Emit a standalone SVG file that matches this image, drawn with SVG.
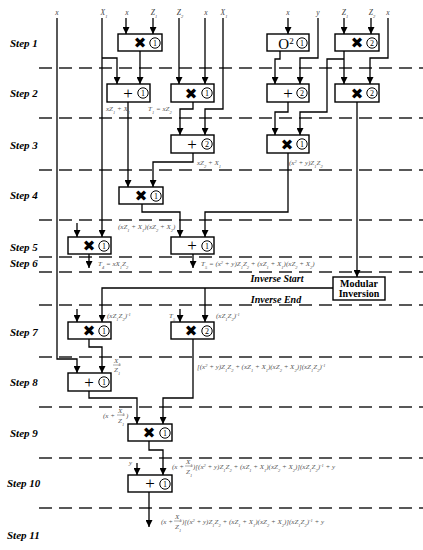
<svg xmlns="http://www.w3.org/2000/svg" width="423" height="550" viewBox="0 0 423 550">
<style>
.bg{fill:#fff}
.step{font-family:"Liberation Serif",serif;font-weight:bold;font-style:italic;font-size:11px;fill:#000}
.dash{stroke:#222;stroke-width:1.6;stroke-dasharray:13 7;fill:none}
.box{fill:#fff;stroke:#000;stroke-width:1.4}
.cir{fill:#fff;stroke:#000;stroke-width:1}
.num{font-family:"Liberation Serif",serif;font-size:8px;text-anchor:middle;fill:#000}
.mul{font-family:"DejaVu Sans",sans-serif;font-size:15px;text-anchor:middle;fill:#000}
.add{font-family:"Liberation Serif",serif;font-size:17px;text-anchor:middle;fill:#000}
.sq{font-family:"Liberation Serif",serif;font-size:15px;text-anchor:middle;fill:#000}
.mi{font-family:"Liberation Serif",serif;font-weight:bold;font-size:10px;text-anchor:middle;fill:#000}
.inv{font-family:"Liberation Serif",serif;font-weight:bold;font-style:italic;font-size:10px;text-anchor:middle;fill:#000}
.lab{font-family:"Liberation Serif",serif;font-style:italic;font-size:7px;fill:#555}
.top{font-family:"Liberation Serif",serif;font-style:italic;font-size:7.5px;fill:#444;text-anchor:middle}
.sub{font-size:4.5px;baseline-shift:sub}
.sup{font-size:4.5px;baseline-shift:super}
.con{fill:none;stroke:#000;stroke-width:1.3}
.arr{marker-end:url(#ah)}
.frl{stroke:#555;stroke-width:0.5}
</style>
<defs>
<marker id="ah" markerUnits="userSpaceOnUse" markerWidth="7" markerHeight="7" refX="7" refY="3.5" orient="auto">
<path d="M0,0 L7,3.5 L0,7 z" fill="#000"/>
</marker>
</defs>
<rect class="bg" x="0" y="0" width="423" height="550"/>

<g id="steps">
<text class="step" x="10" y="47">Step 1</text>
<text class="step" x="10" y="97">Step 2</text>
<text class="step" x="10" y="149">Step 3</text>
<text class="step" x="10" y="199">Step 4</text>
<text class="step" x="10" y="251">Step 5</text>
<text class="step" x="10" y="267">Step 6</text>
<text class="step" x="10" y="336">Step 7</text>
<text class="step" x="10" y="386">Step 8</text>
<text class="step" x="10" y="437">Step 9</text>
<text class="step" x="7" y="487">Step 10</text>
<text class="step" x="7" y="539">Step 11</text>
</g>

<g id="dashed-lines">
<line class="dash" x1="39" y1="68" x2="423" y2="68"/>
<line class="dash" x1="39" y1="118" x2="423" y2="118"/>
<line class="dash" x1="39" y1="170" x2="423" y2="170"/>
<line class="dash" x1="39" y1="220" x2="423" y2="220"/>
<line class="dash" x1="39" y1="257" x2="423" y2="257"/>
<line class="dash" x1="39" y1="272" x2="423" y2="272"/>
<line class="dash" x1="39" y1="305" x2="423" y2="305"/>
<line class="dash" x1="39" y1="357" x2="423" y2="357"/>
<line class="dash" x1="39" y1="407" x2="423" y2="407"/>
<line class="dash" x1="39" y1="458" x2="423" y2="458"/>
<line class="dash" x1="39" y1="508" x2="423" y2="508"/>
</g>

<g id="inputs">
<text class="top" x="57" y="15">x</text>
<text class="top" x="104" y="15">X<tspan class="sub">1</tspan></text>
<text class="top" x="127" y="15">x</text>
<text class="top" x="154" y="15">Z<tspan class="sub">1</tspan></text>
<text class="top" x="180" y="15">Z<tspan class="sub">2</tspan></text>
<text class="top" x="206" y="15">x</text>
<text class="top" x="224" y="15">X<tspan class="sub">1</tspan></text>
<text class="top" x="288" y="15">x</text>
<text class="top" x="318" y="15">y</text>
<text class="top" x="345" y="15">Z<tspan class="sub">1</tspan></text>
<text class="top" x="372" y="15">Z<tspan class="sub">2</tspan></text>
<text class="top" x="388" y="15">x</text>
</g>

<g id="connectors">
<path class="con arr" d="M57,18 V359 H77 V373"/>
<path class="con arr" d="M102,18 V237"/>
<path class="con arr" d="M102,58 H117 V84"/>
<path class="con arr" d="M126,18 V34"/>
<path class="con arr" d="M153,18 V34"/>
<path class="con arr" d="M179,18 V84"/>
<path class="con arr" d="M205,18 V84"/>
<path class="con arr" d="M223,18 V109 H205 V135"/>
<path class="con arr" d="M288,18 V34"/>
<path class="con arr" d="M318,18 V58 H300 V84"/>
<path class="con arr" d="M344,18 V34"/>
<path class="con arr" d="M371,18 V34"/>
<path class="con arr" d="M388,18 V58 H370 V84"/>
<path class="con arr" d="M140,51 V84"/>
<path class="con arr" d="M280,51 V59 H275 V84"/>
<path class="con arr" d="M344,51 V84"/>
<path class="con arr" d="M344,59 H327 V112 H300 V135"/>
<path class="con arr" d="M128,102 V187"/>
<path class="con arr" d="M193,102 V109 H180 V135"/>
<path class="con arr" d="M288,102 V112 H275 V135"/>
<path class="con arr" d="M357,102 V277"/>
<path class="con arr" d="M193,153 V162 H153 V187"/>
<path class="con arr" d="M288,153 V212 H205 V237"/>
<path class="con arr" d="M142,204 V212 H180 V237"/>
<path class="con arr" d="M77,223 V237"/>
<path class="con arr" d="M89,254 V268"/>
<path class="con arr" d="M193,254 V268"/>
<path class="con arr" d="M333,288 H102 V322"/>
<path class="con arr" d="M205,288 V322"/>
<path class="con arr" d="M77,309 V322"/>
<path class="con arr" d="M180,309 V322"/>
<path class="con arr" d="M89,339 V347 H102 V373"/>
<path class="con arr" d="M193,339 V398 H163 V424"/>
<path class="con arr" d="M89,391 V398 H137 V424"/>
<path class="con arr" d="M149,441 V450 H163 V475"/>
<path class="con arr" d="M137,463 V475"/>
<path class="con arr" d="M149,492 V527"/>
</g>

<g id="s1-mul1"><rect class="box" x="118" y="34" width="44" height="17"/><text class="mul" x="140" y="48">✖</text><circle class="cir" cx="155" cy="43" r="5.2"/><text class="num" x="155" y="45.8">1</text></g>
<g id="s1-sq1"><rect class="box" x="267" y="34" width="42" height="17"/><text class="sq" x="286" y="48.5">O<tspan font-size="9" baseline-shift="super">2</tspan></text><circle class="cir" cx="302" cy="43" r="5.2"/><text class="num" x="302" y="45.8">1</text></g>
<g id="s1-mul2"><rect class="box" x="335" y="34" width="44" height="17"/><text class="mul" x="357" y="48">✖</text><circle class="cir" cx="372" cy="43" r="5.2"/><text class="num" x="372" y="45.8">2</text></g>

<g id="s2-add1"><rect class="box" x="107" y="84" width="43" height="18"/><text class="add" x="128" y="98.5">+</text><circle class="cir" cx="143" cy="93" r="5.2"/><text class="num" x="143" y="95.8">1</text></g>
<g id="s2-mul1"><rect class="box" x="171" y="84" width="43" height="18"/><text class="mul" x="191" y="98.5">✖</text><circle class="cir" cx="207" cy="93" r="5.2"/><text class="num" x="207" y="95.8">1</text></g>
<g id="s2-add2"><rect class="box" x="267" y="84" width="42" height="18"/><text class="add" x="288" y="98.5">+</text><circle class="cir" cx="302" cy="93" r="5.2"/><text class="num" x="302" y="95.8">2</text></g>
<g id="s2-mul2"><rect class="box" x="335" y="84" width="44" height="18"/><text class="mul" x="357" y="98.5">✖</text><circle class="cir" cx="372" cy="93" r="5.2"/><text class="num" x="372" y="95.8">2</text></g>

<g id="s3-add2"><rect class="box" x="171" y="135" width="43" height="18"/><text class="add" x="192" y="149.5">+</text><circle class="cir" cx="207" cy="144" r="5.2"/><text class="num" x="207" y="146.8">2</text></g>
<g id="s3-mul1"><rect class="box" x="267" y="135" width="42" height="18"/><text class="mul" x="287" y="149.5">✖</text><circle class="cir" cx="302" cy="144" r="5.2"/><text class="num" x="302" y="146.8">1</text></g>

<g id="s4-mul1"><rect class="box" x="119" y="187" width="44" height="17"/><text class="mul" x="141" y="201">✖</text><circle class="cir" cx="156" cy="196" r="5.2"/><text class="num" x="156" y="198.8">1</text></g>

<g id="s5-mul1"><rect class="box" x="68" y="237" width="43" height="17"/><text class="mul" x="89" y="251">✖</text><circle class="cir" cx="104" cy="246" r="5.2"/><text class="num" x="104" y="248.8">1</text></g>
<g id="s5-add1"><rect class="box" x="171" y="237" width="43" height="17"/><text class="add" x="192" y="251">+</text><circle class="cir" cx="207" cy="246" r="5.2"/><text class="num" x="207" y="248.8">1</text></g>

<g id="modinv"><rect class="box" x="333" y="277" width="52" height="23"/><text class="mi" x="359" y="287">Modular</text><text class="mi" x="359" y="297">Inversion</text></g>

<g id="s7-mul1"><rect class="box" x="68" y="322" width="43" height="17"/><text class="mul" x="89" y="336">✖</text><circle class="cir" cx="104" cy="331" r="5.2"/><text class="num" x="104" y="333.8">1</text></g>
<g id="s7-mul2"><rect class="box" x="171" y="322" width="43" height="17"/><text class="mul" x="191" y="336">✖</text><circle class="cir" cx="207" cy="331" r="5.2"/><text class="num" x="207" y="333.8">2</text></g>

<g id="s8-add1"><rect class="box" x="68" y="373" width="43" height="18"/><text class="add" x="89" y="387.5">+</text><circle class="cir" cx="104" cy="382" r="5.2"/><text class="num" x="104" y="384.8">1</text></g>

<g id="s9-mul1"><rect class="box" x="128" y="424" width="44" height="17"/><text class="mul" x="149" y="438">✖</text><circle class="cir" cx="165" cy="433" r="5.2"/><text class="num" x="165" y="435.8">1</text></g>

<g id="s10-add1"><rect class="box" x="128" y="475" width="44" height="17"/><text class="add" x="150" y="489">+</text><circle class="cir" cx="165" cy="484" r="5.2"/><text class="num" x="165" y="486.8">1</text></g>

<g id="inverse-labels">
<text class="inv" x="277" y="282">Inverse Start</text>
<text class="inv" x="276" y="303">Inverse End</text>
</g>

<g id="labels">
<text class="lab" x="106" y="111">xZ<tspan class="sub">1</tspan> + X<tspan class="sub">1</tspan></text>
<text class="lab" x="148" y="111">T<tspan class="sub">1</tspan> = xZ<tspan class="sub">2</tspan></text>
<text class="lab" x="197" y="165">xZ<tspan class="sub">2</tspan> + X<tspan class="sub">1</tspan></text>
<text class="lab" x="289" y="165">(x<tspan class="sup">2</tspan> + y)Z<tspan class="sub">1</tspan>Z<tspan class="sub">2</tspan></text>
<text class="lab" x="118" y="229">(xZ<tspan class="sub">1</tspan> + X<tspan class="sub">1</tspan>)(xZ<tspan class="sub">2</tspan> + X<tspan class="sub">2</tspan>)</text>
<text class="lab" x="98" y="266">T<tspan class="sub">4</tspan> = xX<tspan class="sub">1</tspan>Z<tspan class="sub">2</tspan></text>
<text class="lab" x="201" y="266">T<tspan class="sub">5</tspan> = (x<tspan class="sup">2</tspan> + y)Z<tspan class="sub">1</tspan>Z<tspan class="sub">2</tspan> + (xZ<tspan class="sub">1</tspan> + X<tspan class="sub">1</tspan>)(xZ<tspan class="sub">2</tspan> + X<tspan class="sub">2</tspan>)</text>
<text class="lab" x="107" y="318">(xZ<tspan class="sub">1</tspan>Z<tspan class="sub">2</tspan>)<tspan class="sup">-1</tspan></text>
<text class="lab" x="169" y="318">T<tspan class="sub">5</tspan></text>
<text class="lab" x="216" y="318">(xZ<tspan class="sub">1</tspan>Z<tspan class="sub">2</tspan>)<tspan class="sup">-1</tspan></text>
<g id="frac-x1z1">
<text class="lab" x="114" y="363">X<tspan class="sub">1</tspan></text>
<line class="frl" x1="113" y1="365" x2="121" y2="365"/>
<text class="lab" x="114" y="372">Z<tspan class="sub">1</tspan></text>
</g>
<text class="lab" x="197" y="369">[(x<tspan class="sup">2</tspan> + y)Z<tspan class="sub">1</tspan>Z<tspan class="sub">2</tspan> + (xZ<tspan class="sub">1</tspan> + X<tspan class="sub">1</tspan>)(xZ<tspan class="sub">2</tspan> + X<tspan class="sub">2</tspan>)](xZ<tspan class="sub">1</tspan>Z<tspan class="sub">2</tspan>)<tspan class="sup">-1</tspan></text>
<g id="lab-s9">
<text class="lab" x="103" y="418">(x +</text>
<text class="lab" x="118" y="413">X<tspan class="sub">1</tspan></text>
<line class="frl" x1="117" y1="415" x2="125" y2="415"/>
<text class="lab" x="118" y="423">Z<tspan class="sub">1</tspan></text>
<text class="lab" x="126" y="418">)</text>
</g>
<text class="lab" x="129" y="465">y</text>
<g id="lab-s10">
<text class="lab" x="172" y="469">(x +</text>
<text class="lab" x="186" y="464">X<tspan class="sub">1</tspan></text>
<line class="frl" x1="185" y1="466" x2="193" y2="466"/>
<text class="lab" x="186" y="474">Z<tspan class="sub">1</tspan></text>
<text class="lab" x="193" y="469">)[(x<tspan class="sup">2</tspan> + y)Z<tspan class="sub">1</tspan>Z<tspan class="sub">2</tspan> + (xZ<tspan class="sub">1</tspan> + X<tspan class="sub">1</tspan>)(xZ<tspan class="sub">2</tspan> + X<tspan class="sub">2</tspan>)](xZ<tspan class="sub">1</tspan>Z<tspan class="sub">2</tspan>)<tspan class="sup">-1</tspan> + y</text>
</g>
<g id="lab-s11">
<text class="lab" x="161" y="524">(x +</text>
<text class="lab" x="175" y="519">X<tspan class="sub">1</tspan></text>
<line class="frl" x1="174" y1="521" x2="182" y2="521"/>
<text class="lab" x="175" y="529">Z<tspan class="sub">1</tspan></text>
<text class="lab" x="182" y="524">)[(x<tspan class="sup">2</tspan> + y)Z<tspan class="sub">1</tspan>Z<tspan class="sub">2</tspan> + (xZ<tspan class="sub">1</tspan> + X<tspan class="sub">1</tspan>)(xZ<tspan class="sub">2</tspan> + X<tspan class="sub">2</tspan>)](xZ<tspan class="sub">1</tspan>Z<tspan class="sub">2</tspan>)<tspan class="sup">-1</tspan> + y</text>
</g>
</g>
</svg>
